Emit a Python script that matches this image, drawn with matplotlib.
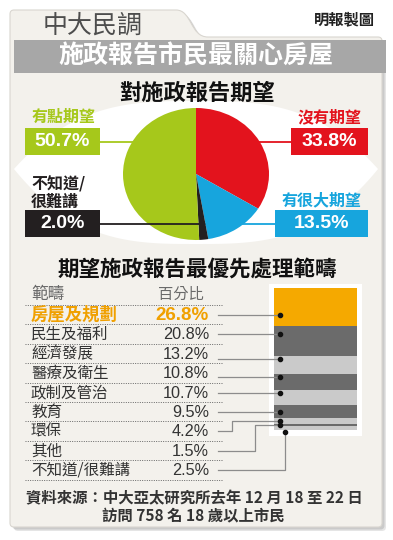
import numpy as np
import matplotlib
matplotlib.use("Agg")
import matplotlib.pyplot as plt
from matplotlib.patches import Rectangle, Polygon, PathPatch
from matplotlib.path import Path

W, H = 393, 540

# pie: expectations of the policy address (clockwise from 12 o'clock)
pie_labels = ["沒有期望", "有很大期望", "不知道/\n很難講", "有點期望"]
pie_values = [33.8, 13.5, 2.0, 50.7]
pie_colors = ["#e3131d", "#17a5dd", "#231f20", "#a6c81b"]

# table + stacked bar: top priority areas
cat_header = ["範疇", "百分比"]
cat_labels = ["房屋及規劃", "民生及福利", "經濟發展", "醫療及衛生", "政制及管治",
              "教育", "環保", "其他", "不知道/很難講"]
cat_values = [26.8, 20.8, 13.2, 10.8, 10.7, 9.5, 4.2, 1.5, 2.5]
seg_colors = ["#f5a900", "#6b6b6b", "#cacaca", "#6b6b6b", "#cacaca",
              "#6b6b6b", "#cacaca", "#6b6b6b", "#cacaca"]

plt.rcParams["font.family"] = ["Noto Sans CJK TC", "DejaVu Sans"]
NUM = ["Liberation Sans", "DejaVu Sans"]
CARD = "#f3f1ec"

fig = plt.figure(figsize=(W / 100, H / 100), dpi=100)
bg = fig.add_axes([0, 0, 1, 1])
bg.set_xlim(0, W)
bg.set_ylim(H, 0)
bg.axis("off")


def px_axes(x0, y0, x1, y1):
    return fig.add_axes([x0 / W, 1 - y1 / H, (x1 - x0) / W, (y1 - y0) / H])


def to_px(ax, x, y):
    return bg.transData.inverted().transform(ax.transData.transform((x, y)))


def to_data(ax, x, y):
    return ax.transData.inverted().transform(bg.transData.transform((x, y)))


# ---- card with tab ----
M, L, C3, C4 = Path.MOVETO, Path.LINETO, Path.CURVE3, Path.CURVE4
verts = [(10, 523), (10, 14), (10, 10), (14, 10), (176, 10),
         (192, 10), (190, 37), (208, 37), (378, 37), (382, 37), (382, 41),
         (382, 523), (382, 527), (378, 527), (14, 527), (10, 527), (10, 523), (10, 523)]
codes = [M, L, C3, C3, L, C4, C4, C4, L, C3, C3, L, C3, C3, L, C3, C3, Path.CLOSEPOLY]
for off, a in [(4, 0.25), (2.5, 0.35)]:
    sh = Path([(x + off, y + off) for x, y in verts], codes)
    bg.add_patch(PathPatch(sh, fc="#9a9a9a", ec="none", alpha=a))
bg.add_patch(PathPatch(Path(verts, codes), fc=CARD, ec="#d9d6d0", lw=0.8))

bg.text(43, 26, "中大民調", fontsize=18, color="#4d4d4d", ha="left", va="center")
bg.text(375, 19, "明報製圖", fontsize=11, color="#222222", fontweight="bold",
        ha="right", va="center")

bg.add_patch(Rectangle((14, 40), 372, 33, fc="#a7a7a7", ec="none"))
bg.text(196, 57, "施政報告市民最關心房屋", fontsize=18, color="white",
        fontweight="bold", ha="center", va="center")

# ---- white lens behind pie ----
xs = np.linspace(14, 378, 200)
k = 1 - np.abs((xs - 196) / 182) ** 3
top = 169 - 68 * k
bot = 169 + 75 * k
lens = np.vstack([np.column_stack([xs, top]), np.column_stack([xs[::-1], bot[::-1]])])
bg.add_patch(Polygon(lens, closed=True, fc="white", ec="none"))

bg.text(197, 93, "對施政報告期望", fontsize=16, fontweight="bold", color="#111111",
        ha="center", va="center")

# ---- pie ----
pax = px_axes(123, 108, 269, 240)
pax.pie(pie_values, colors=pie_colors, startangle=90, counterclock=False,
        wedgeprops=dict(linewidth=0))
pax.set_aspect("auto")
pax.set_xlim(-1, 1)
pax.set_ylim(-1, 1)
pax.axis("off")

# label boxes: (text x, text y, box x0, box x1, box y0, box y1, side)
boxes = [
    (330, 117, 291, 368, 128, 155, "c"),
    (321, 200, 275, 368, 210, 237, "c"),
    (31, 193, 25, 100, 210, 237, "l"),
    (63, 117, 25, 100, 128, 155, "c"),
]
cum = np.cumsum([0] + pie_values[:-1])
for i, (lab, val, col) in enumerate(zip(pie_labels, pie_values, pie_colors)):
    tx, ty, x0, x1, y0, y1, side = boxes[i]
    if side == "l":
        bg.text(tx, ty, lab, fontsize=11.5, fontweight="bold", color=col,
                ha="left", va="center", linespacing=1.05)
    else:
        bg.text(tx, ty, lab, fontsize=11.5, fontweight="bold", color=col,
                ha="center", va="center")
    bg.add_patch(Rectangle((x0, y0), x1 - x0, y1 - y0, fc=col, ec="none"))
    bg.text((x0 + x1) / 2, (y0 + y1) / 2 + 0.5, f"{val:.1f}%", family=NUM,
            fontsize=14, fontweight="bold", color="white", ha="center", va="center")
    ly = (y0 + y1) / 2
    if i == 2:
        # leader crosses the green slice and ends on the thin black slice
        theta = np.deg2rad(90 - 360 * (cum[i] + val / 2) / 100)
        sx, sy = to_data(pax, x1, ly)
        ex = sy / np.sin(theta) * np.cos(theta)
        pax.plot([sx, ex], [sy, sy], color=col, lw=1.3, clip_on=False,
                 solid_capstyle="butt")
    else:
        edge = x1 if x1 < 196 else x0
        bg.plot([edge, 196], [ly, ly], color=col, lw=1.3, solid_capstyle="butt")

# ---- priority table ----
bg.text(197, 269, "期望施政報告最優先處理範疇", fontsize=15.5, fontweight="bold",
        color="#111111", ha="center", va="center")
bg.text(31, 294, cat_header[0], fontsize=12, color="#6a6a6a", ha="left", va="center")
bg.text(181, 294, cat_header[1], fontsize=11, color="#6a6a6a", ha="center", va="center")

row_y = [315 + i * 19.4 for i in range(len(cat_labels))]
for i in range(len(cat_labels) + 1):
    yy = 305 + i * 19.4
    bg.plot([25, 222], [yy, yy], color="#666666", lw=0.7, ls=(0, (1, 1.4)))

for i, (lab, val) in enumerate(zip(cat_labels, cat_values)):
    if i == 0:
        bg.text(31, row_y[i], lab, fontsize=12.5, fontweight="bold", color="#f0a000",
                ha="left", va="center")
        bg.text(209, row_y[i] + 0.5, f"{val:.1f}%", family=NUM, fontsize=13.5,
                fontweight="bold", color="#f0a000", ha="right", va="center")
    else:
        bg.text(31, row_y[i], lab, fontsize=11.2, color="#333333", ha="left", va="center")
        bg.text(209, row_y[i] + 0.5, f"{val:.1f}%", family=NUM, fontsize=11.7,
                color="#333333", ha="right", va="center")

# ---- stacked bar ----
bg.add_patch(Rectangle((269, 284), 93, 152, fc="white", ec="none"))
bax = px_axes(274, 288, 357, 430)
bottoms = np.cumsum([0] + cat_values[:-1])
bax.bar(0, cat_values, bottom=bottoms, width=1, color=seg_colors, linewidth=0)
bax.set_xlim(-0.5, 0.5)
bax.set_ylim(100, 0)
bax.axis("off")

elbow_x = {6: 232, 7: 255, 8: 285}
for i, (val, b) in enumerate(zip(cat_values, bottoms)):
    seg_top = to_px(bax, 0, b)[1]
    seg_bot = to_px(bax, 0, b + val)[1]
    dot_x = to_px(bax, -0.5, 0)[0] + 6
    if i < 6:
        dot_y = float(np.clip(row_y[i], seg_top + 3, seg_bot - 3))
        pts = [(218, dot_y), (dot_x, dot_y)]
    else:
        if i == 8:
            dot_x = elbow_x[i]
            dot_y = seg_bot + 2
        else:
            dot_y = (seg_top + seg_bot) / 2
        ex = elbow_x[i]
        pts = [(218, row_y[i]), (ex, row_y[i]), (ex, dot_y), (dot_x, dot_y)]
    px, py = zip(*pts)
    # drawn on the bar axes (in page pixels) so they sit above the segments
    bax.plot(px, py, color="#8c8c8c", lw=0.9, transform=bg.transData,
             clip_on=False, zorder=3)
    bax.plot(dot_x, dot_y, "o", color="#111111", ms=3, transform=bg.transData,
             clip_on=False, zorder=5)

# ---- source ----
bg.text(194, 498, "資料來源：中大亞太研究所去年 12 月 18 至 22 日", fontsize=11.1,
        fontweight="bold", color="#333333", ha="center", va="center")
bg.text(193, 516, "訪問 758 名 18 歲以上市民", fontsize=11.1, fontweight="bold",
        color="#333333", ha="center", va="center")

fig.savefig("out.png", dpi=100)
